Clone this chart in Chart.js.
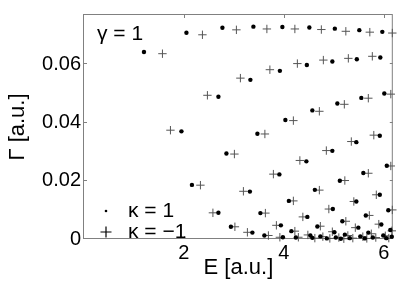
<!DOCTYPE html>
<html><head><meta charset="utf-8">
<script src="https://cdn.jsdelivr.net/npm/chart.js@4/dist/chart.umd.min.js"></script>
<style>html,body{margin:0;padding:0;background:#fff}canvas{display:block}</style>
</head><body>
<canvas id="c" width="398" height="282"></canvas>
<script>
// kappa = 1 (dots)
const kappaPlusE = [
  1.20,2.05,2.77,3.39,3.97,4.51,5.02,5.51,5.97,
  1.95,2.69,3.33,3.92,4.46,4.97,5.46,5.93,
  2.16,2.85,3.47,4.03,4.57,5.07,5.55,6.01,
  2.69,3.32,3.91,4.45,4.97,5.45,5.92,
  2.94,3.53,4.10,4.62,5.12,5.59,6.06,
  3.37,3.94,4.47,4.98,5.45,5.92,
  3.61,4.15,4.67,5.17,5.64,6.09,
  3.98,4.53,5.01,5.49,5.95,
  4.24,4.73,5.22,5.69,6.13,
  4.57,5.04,5.53,5.99,
  4.86,5.32,5.78,6.16,
  5.14,5.62,6.05
];
const kappaPlusG = [
  0.0643,0.0709,0.0726,0.0730,0.0729,0.0727,0.0723,0.0718,0.0712,
  0.0370,0.0489,0.0547,0.0578,0.0598,0.0610,0.0618,0.0624,
  0.0186,0.0294,0.0362,0.0409,0.0442,0.0466,0.0485,0.0500,
  0.0090,0.0163,0.0222,0.0267,0.0303,0.0333,0.0355,
  0.0042,0.0089,0.0131,0.0169,0.0200,0.0227,0.0252,
  0.0022,0.0047,0.0076,0.0103,0.0129,0.0152,
  0.0012,0.0027,0.0043,0.0061,0.0081,0.0099,
  0.0006,0.0012,0.0023,0.0039,0.0050,
  0.0005,0.0009,0.0015,0.0022,0.0031,
  0.0004,0.0005,0.0009,0.0012,
  0.0002,0.0003,0.0005,0.0008,
  0.0001,0.0002,0.0003
];
// kappa = -1 (plus signs)
const kappaMinusE = [
  1.57,2.37,3.05,3.66,4.22,4.75,5.24,5.72,6.17,
  1.73,2.47,3.13,3.72,4.27,4.79,5.29,5.77,
  2.33,3.01,3.62,4.19,4.71,5.21,5.69,6.14,
  2.58,3.19,3.79,4.32,4.85,5.35,5.80,
  3.02,3.63,4.19,4.71,5.22,5.69,6.14,
  3.27,3.85,4.38,4.90,5.40,5.85,
  3.69,4.22,4.73,5.24,5.71,6.17,
  3.92,4.48,4.97,5.43,5.90,
  4.29,4.78,5.28,5.75,6.16,
  4.62,5.10,5.58,6.03,
  4.92,5.38,5.84,
  5.20,5.66,6.10
];
const kappaMinusG = [
  0.0637,0.0702,0.0719,0.0722,0.0722,0.0720,0.0714,0.0711,0.0708,
  0.0374,0.0494,0.0553,0.0582,0.0603,0.0615,0.0621,0.0628,
  0.0185,0.0292,0.0361,0.0407,0.0439,0.0463,0.0484,0.0498,
  0.0090,0.0164,0.0223,0.0270,0.0304,0.0335,0.0357,
  0.0042,0.0089,0.0131,0.0168,0.0201,0.0226,0.0251,
  0.0023,0.0047,0.0076,0.0103,0.0129,0.0152,
  0.0012,0.0027,0.0044,0.0061,0.0081,0.0100,
  0.0006,0.0014,0.0025,0.0039,0.0051,
  0.0006,0.0008,0.0012,0.0018,0.0028,
  0.0003,0.0005,0.0008,0.0011,
  0.0002,0.0003,0.0005,
  0.0001,0.0002,0.0003
];
const xTicks = [2, 4, 6];
const yTicks = [0, 0.02, 0.04, 0.06];
const annotationText = 'γ = 1';
const seriesLabels = ['κ = 1', 'κ = −1'];
const xTitle = 'E [a.u.]';
const yTitle = 'Γ [a.u.]';

const FONT = '"Liberation Sans", Arial, Helvetica, sans-serif';
const toPts = (xs, ys) => xs.map((x, i) => ({x: x, y: ys[i]}));

const decor = {
  id: 'decor',
  beforeDatasetsDraw(chart) {
    const {ctx, chartArea: a, scales: {x, y}} = chart;
    ctx.save();
    ctx.strokeStyle = '#808080';
    ctx.lineWidth = 1;
    ctx.strokeRect(a.left - 0.5, a.top - 0.5, a.right - a.left, a.bottom - a.top);
    ctx.beginPath();
    xTicks.forEach(v => {
      const px = Math.round(x.getPixelForValue(v)) + 0.5;
      ctx.moveTo(px, a.bottom); ctx.lineTo(px, a.bottom - 3);
      ctx.moveTo(px, a.top); ctx.lineTo(px, a.top + 3);
    });
    yTicks.forEach(v => {
      const py = Math.round(y.getPixelForValue(v)) - 0.5;
      ctx.moveTo(a.left, py); ctx.lineTo(a.left + 3, py);
      ctx.moveTo(a.right, py); ctx.lineTo(a.right - 3, py);
    });
    ctx.stroke();
    ctx.restore();
  },
  afterDatasetsDraw(chart) {
    const {ctx, chartArea: a} = chart;
    ctx.save();
    ctx.fillStyle = '#000';
    ctx.font = '21px ' + FONT;
    ctx.textBaseline = 'alphabetic';
    ctx.textAlign = 'left';
    ctx.fillText(annotationText, a.left + 13, a.top + 25);
    // legend
    const mx = a.left + 22;
    const y1 = a.top + 196, y2 = a.top + 217;
    ctx.beginPath(); ctx.arc(mx, y1, 1.3, 0, Math.PI * 2); ctx.fill();
    ctx.strokeStyle = '#000'; ctx.lineWidth = 1.2;
    ctx.beginPath();
    ctx.moveTo(mx - 5.5, y2); ctx.lineTo(mx + 5.5, y2);
    ctx.moveTo(mx, y2 - 5.5); ctx.lineTo(mx, y2 + 5.5);
    ctx.stroke();
    ctx.textBaseline = 'middle';
    ctx.fillText(seriesLabels[0], a.left + 44, y1);
    ctx.fillText(seriesLabels[1], a.left + 44, y2);
    ctx.restore();
  }
};

new Chart(document.getElementById('c'), {
  type: 'scatter',
  data: {
    datasets: [
      {label: seriesLabels[0], data: toPts(kappaPlusE, kappaPlusG), pointStyle: 'circle', pointRadius: 2.2,
       backgroundColor: '#000', borderColor: '#000', borderWidth: 0, clip: false},
      {label: seriesLabels[1], data: toPts(kappaMinusE, kappaMinusG), pointStyle: 'cross', pointRadius: 4.2,
       backgroundColor: '#555', borderColor: '#555', borderWidth: 1, clip: false}
    ]
  },
  options: {
    responsive: false,
    devicePixelRatio: 1,
    animation: false,
    layout: {padding: {top: 3, right: 5, left: 0, bottom: 0}},
    plugins: {legend: {display: false}, tooltip: {enabled: false}},
    scales: {
      x: {
        type: 'linear', min: 0, max: 6.18,
        afterBuildTicks: s => { s.ticks = xTicks.map(v => ({value: v})); },
        afterFit: s => { s.height = 43; },
        grid: {display: false, drawTicks: false},
        border: {display: false},
        ticks: {color: '#000', font: {family: FONT, size: 20}, padding: 2, maxRotation: 0, autoSkip: false,
                callback: v => String(v)},
        title: {display: true, text: xTitle, color: '#000', font: {family: FONT, size: 22}, padding: {top: 0, bottom: 1}}
      },
      y: {
        type: 'linear', min: 0, max: 0.077,
        afterBuildTicks: s => { s.ticks = yTicks.map(v => ({value: v})); },
        afterFit: s => { s.width = 84; },
        grid: {display: false, drawTicks: false},
        border: {display: false},
        ticks: {color: '#000', font: {family: FONT, size: 20}, padding: 3, autoSkip: false,
                callback: v => v === 0 ? '0' : v.toFixed(2)},
        title: {display: true, text: yTitle, color: '#000', font: {family: FONT, size: 22}, padding: {top: 5, bottom: 0}}
      }
    }
  },
  plugins: [decor]
});
</script>
</body></html>
